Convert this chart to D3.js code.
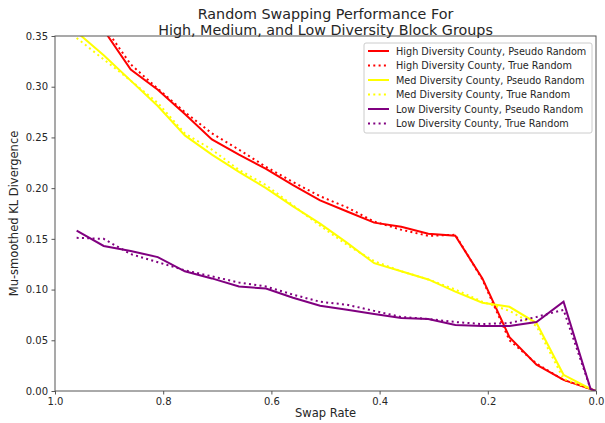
<!DOCTYPE html>
<html>
<head>
<meta charset="utf-8">
<script src="https://cdn.jsdelivr.net/npm/d3@7"></script>
<style>
  body { margin: 0; background: #fff; }
  svg text { font-family: "DejaVu Sans", sans-serif; fill: #262626; }
  .tick line { stroke: #555; }
</style>
</head>
<body>
<div id="chart"></div>
<script>
// swap rates (x) and the six series
var swapRate   = [0.96, 0.91, 0.86, 0.81, 0.76, 0.71, 0.66, 0.61, 0.56, 0.51, 0.46, 0.41, 0.36, 0.31, 0.26, 0.21, 0.16, 0.11, 0.06, 0.01, 0.0];
var highPseudo = [0.400, 0.356, 0.317, 0.297, 0.273, 0.248, 0.233, 0.219, 0.203, 0.188, 0.177, 0.166, 0.162, 0.155, 0.153, 0.111, 0.053, 0.026, 0.011, 0.002, 0];
var highTrue   = [0.405, 0.360, 0.322, 0.298, 0.275, 0.254, 0.238, 0.221, 0.206, 0.192, 0.181, 0.167, 0.159, 0.153, 0.154, 0.110, 0.050, 0.027, 0.011, 0.002, 0];
var medPseudo  = [0.354, 0.331, 0.306, 0.281, 0.252, 0.233, 0.216, 0.200, 0.182, 0.165, 0.146, 0.126, 0.118, 0.110, 0.098, 0.087, 0.083, 0.067, 0.016, 0.002, 0];
var medTrue    = [0.348, 0.327, 0.306, 0.284, 0.254, 0.238, 0.218, 0.203, 0.183, 0.163, 0.144, 0.128, 0.118, 0.110, 0.100, 0.088, 0.079, 0.064, 0.012, 0.002, 0];
var lowPseudo  = [0.158, 0.143, 0.138, 0.132, 0.118, 0.111, 0.103, 0.101, 0.092, 0.084, 0.080, 0.076, 0.072, 0.071, 0.065, 0.064, 0.064, 0.068, 0.088, 0.002, 0];
var lowTrue    = [0.151, 0.150, 0.135, 0.127, 0.119, 0.113, 0.107, 0.103, 0.095, 0.088, 0.085, 0.079, 0.073, 0.071, 0.068, 0.066, 0.067, 0.073, 0.080, 0.002, 0];

var xTicks = [1.0, 0.8, 0.6, 0.4, 0.2, 0.0];
var yTicks = [0.00, 0.05, 0.10, 0.15, 0.20, 0.25, 0.30, 0.35];

var series = [
  {name: "High Diversity County, Pseudo Random", values: highPseudo, color: "#ff0000", dotted: false},
  {name: "High Diversity County, True Random",   values: highTrue,   color: "#ff0000", dotted: true},
  {name: "Med Diversity County, Pseudo Random",  values: medPseudo,  color: "#ffff00", dotted: false},
  {name: "Med Diversity County, True Random",    values: medTrue,    color: "#ffff00", dotted: true},
  {name: "Low Diversity County, Pseudo Random",  values: lowPseudo,  color: "#800080", dotted: false},
  {name: "Low Diversity County, True Random",    values: lowTrue,    color: "#800080", dotted: true}
];

var width = 605, height = 423;
var margin = {top: 36, right: 9, bottom: 32, left: 55};

var svg = d3.select("#chart").append("svg")
    .attr("width", width)
    .attr("height", height);

var x = d3.scaleLinear().domain([1.0, 0.0]).range([margin.left, width - margin.right]);
var y = d3.scaleLinear().domain([0, 0.35]).range([height - margin.bottom, margin.top]);

// clip so the lines going over 0.35 get cut like matplotlib does
svg.append("clipPath").attr("id", "plotclip")
  .append("rect")
    .attr("x", margin.left).attr("y", margin.top)
    .attr("width", x(0) - x(1)).attr("height", y(0) - y(0.35));

var line = d3.line()
    .x(function(d) { return x(d[0]); })
    .y(function(d) { return y(d[1]); });

svg.append("g").attr("clip-path", "url(#plotclip)")
  .selectAll("path")
  .data(series)
  .enter()
  .append("path")
    .attr("fill", "none")
    .attr("stroke", function(d) { return d.color; })
    .attr("stroke-width", 2)
    .attr("stroke-dasharray", function(d) { return d.dotted ? "2,3.3" : null; })
    .attr("d", function(d) { return line(d3.zip(swapRate, d.values)); });

// frame
svg.append("rect")
    .attr("x", margin.left).attr("y", margin.top)
    .attr("width", x(0) - x(1)).attr("height", y(0) - y(0.35))
    .attr("fill", "none").attr("stroke", "#555").attr("stroke-width", 1);

// axes
svg.append("g")
    .attr("transform", "translate(0," + y(0) + ")")
    .call(d3.axisBottom(x).tickValues(xTicks).tickFormat(d3.format(".1f")).tickSize(3.5).tickPadding(3));
svg.append("g")
    .attr("transform", "translate(" + margin.left + ",0)")
    .call(d3.axisLeft(y).tickValues(yTicks).tickFormat(d3.format(".2f")).tickSize(3.5).tickPadding(3.5));
svg.selectAll(".domain").remove();
svg.selectAll(".tick text").attr("font-size", 10).style("fill", "#262626");

svg.append("text")
    .attr("x", (x(1) + x(0)) / 2).attr("y", 417)
    .attr("text-anchor", "middle").attr("font-size", 11.5)
    .text("Swap Rate");

svg.append("text")
    .attr("transform", "translate(18," + (y(0) + y(0.35)) / 2 + ") rotate(-90)")
    .attr("text-anchor", "middle").attr("font-size", 11.5)
    .text("Mu-smoothed KL Divergence");

// title
var title = svg.append("text")
    .attr("text-anchor", "middle").attr("font-size", 14.3);
title.append("tspan").attr("x", (x(1) + x(0)) / 2).attr("y", 19).text("Random Swapping Performance For");
title.append("tspan").attr("x", (x(1) + x(0)) / 2).attr("y", 34.5).text("High, Medium, and Low Diversity Block Groups");

// legend
var legend = svg.append("g").attr("transform", "translate(364,43)");
legend.append("rect")
    .attr("width", 228).attr("height", 90).attr("rx", 2)
    .attr("fill", "#fff").attr("fill-opacity", 0.8)
    .attr("stroke", "#ccc");

var item = legend.selectAll("g.item")
  .data(series)
  .enter()
  .append("g")
    .attr("class", "item")
    .attr("transform", function(d, i) { return "translate(0," + (8 + i * 14.5) + ")"; });

item.append("line")
    .attr("x1", 4).attr("x2", 25)
    .attr("stroke", function(d) { return d.color; })
    .attr("stroke-width", 2)
    .attr("stroke-dasharray", function(d) { return d.dotted ? "2,3.3" : null; });

item.append("text")
    .attr("x", 32).attr("y", 3.6)
    .attr("font-size", 9.7)
    .text(function(d) { return d.name; });
</script>
</body>
</html>
